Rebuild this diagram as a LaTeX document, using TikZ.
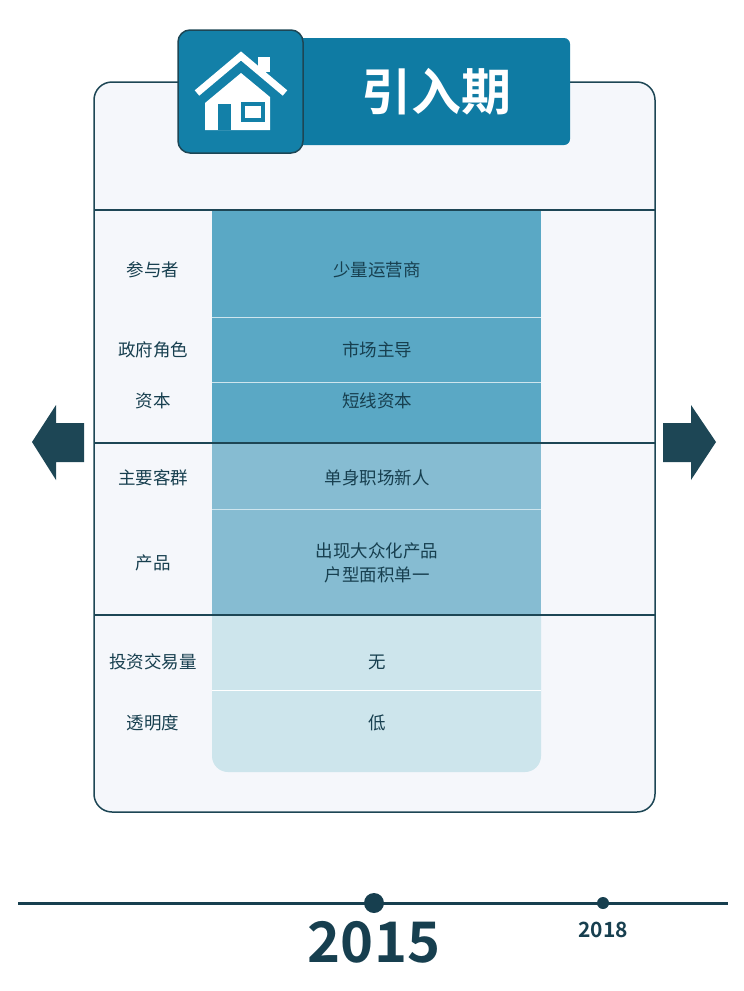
\documentclass[tikz,border=0pt]{standalone}
\usepackage{fontspec}
\newfontfamily\cjk{Noto Sans CJK SC}
\newfontfamily\cjkb{Noto Sans CJK SC Bold}
\definecolor{ink}{HTML}{173F4F}
\definecolor{frame}{HTML}{1D4655}
\definecolor{cardbg}{HTML}{F5F7FB}
\definecolor{tabblue}{HTML}{0F7BA3}
\definecolor{iconblue}{HTML}{1380A8}
\definecolor{bandA}{HTML}{5AA8C5}
\definecolor{bandB}{HTML}{86BCD2}
\definecolor{bandC}{HTML}{CDE5EC}
\tikzset{
  rowlabel/.style={font=\cjk\fontsize{17.5}{21}\selectfont, text=ink, align=center},
  cell/.style={font=\cjk\fontsize{17.5}{24}\selectfont, text=ink, align=center},
  divider/.style={white!70!bandA, line width=1pt},
  sidearrow/.style={fill=frame, draw=none}
}
\begin{document}
\begin{tikzpicture}[x=1pt,y=-1pt]
\useasboundingbox (0,0) rectangle (744,991);
% card
\draw[frame, line width=1.5pt, fill=cardbg, rounded corners=18] (94,82) rectangle (655,812);
% centre column
\fill[bandA] (212,210) rectangle (541,443);
\fill[bandB] (212,443) rectangle (541,615);
\fill[bandC] (212,615) -- (212,700) [rounded corners=16] -- (212,772) -- (541,772) [sharp corners] -- (541,700) -- (541,615) -- cycle;
\draw[divider] (212,317) -- (541,317);
\draw[divider] (212,382) -- (541,382);
\draw[divider] (212,509) -- (541,509);
\draw[white, line width=1pt] (212,690) -- (541,690);
% row separators
\foreach \yy in {210,443,615}
  \draw[frame, line width=1.5pt] (94,\yy) -- (655,\yy);
% header
\fill[tabblue, rounded corners=6] (290,38) rectangle (570,145);
\draw[frame, line width=1.5pt, fill=iconblue, rounded corners=12] (178,30) rectangle (303,153);
\node[text=white, font=\cjkb\fontsize{50}{54}\selectfont] (title) at (436,92) {引入期};
% house icon
\fill[white] (258,57) rectangle (270,72);
\draw[white, line width=7pt, line join=miter] (197,93) -- (241,56) -- (285,93);
\fill[white] (205,103) -- (241,73) -- (270,97) -- (270,130) -- (205,130) -- cycle;
\fill[iconblue] (218,104) rectangle (231,130);
\fill[iconblue] (241,102) rectangle (265,122);
\fill[white] (245,106) rectangle (261,118);
% labels
\node[rowlabel] (l1) at (153,270) {参与者};
\node[rowlabel] (l2) at (153,350) {政府角色};
\node[rowlabel] (l3) at (153,401) {资本};
\node[rowlabel] (l4) at (153,478) {主要客群};
\node[rowlabel] (l5) at (153,563) {产品};
\node[rowlabel] (l6) at (153,662) {投资交易量};
\node[rowlabel] (l7) at (153,723) {透明度};
\node[cell] (c1) at (377,270) {少量运营商};
\node[cell] (c2) at (377,350) {市场主导};
\node[cell] (c3) at (377,401) {短线资本};
\node[cell] (c4) at (377,478) {单身职场新人};
\node[cell] (c5) at (377,563) {出现大众化产品\\户型面积单一};
\node[cell] (c6) at (377,662) {无};
\node[cell] (c7) at (377,723) {低};
% side arrows
\fill[sidearrow] (84,423) -- (56,423) -- (56,405) -- (32,442) -- (56,480) -- (56,462) -- (84,462) -- cycle;
\fill[sidearrow] (663,423) -- (691,423) -- (691,405) -- (716,442) -- (691,480) -- (691,462) -- (663,462) -- cycle;
% timeline
\draw[ink, line width=3pt] (18,903) -- (728,903);
\fill[ink] (374,903) circle (10);
\fill[ink] (603,903) circle (6);
\node[text=ink, font=\cjkb\fontsize{56}{60}\selectfont] (y1) at (374,942) {2015};
\node[text=ink, font=\cjkb\fontsize{21}{24}\selectfont] (y2) at (603,930) {2018};
\end{tikzpicture}
\end{document}
